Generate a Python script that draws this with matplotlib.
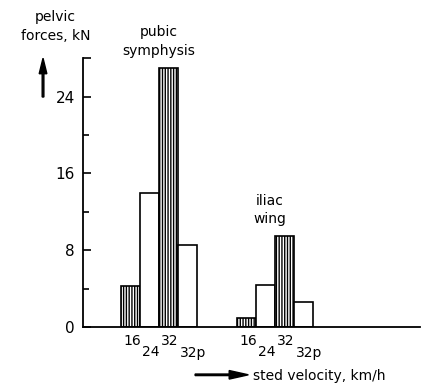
import numpy as np
import matplotlib
matplotlib.use("Agg")
import matplotlib.pyplot as plt

# speed labels and pelvic forces (kN)
speeds = ["16", "24", "32", "32p"]
pubic = [4.3, 14.0, 27.0, 8.5]
iliac = [0.9, 4.4, 9.5, 2.6]
hatched = [True, False, True, False]

plt.rcParams["font.family"] = "DejaVu Sans"

fig = plt.figure(figsize=(4.26, 3.88), dpi=100)
ax = fig.add_axes([0.195, 0.157, 0.791, 0.693])

lab_y = [-0.025, -0.065, -0.025, -0.07]
for start, vals in [(2.0, pubic), (8.1, iliac)]:
    for i, v in enumerate(vals):
        x = start + i
        ax.bar(x, v, width=1.0, align="edge", facecolor="white",
               edgecolor="black", linewidth=1.2,
               hatch="||||||" if hatched[i] else None)
        ax.text(x + 0.1, lab_y[i], speeds[i], transform=ax.get_xaxis_transform(),
                ha="left", va="top", fontsize=10)

ax.set_xlim(0, 17.7)
ax.set_ylim(0, 28)
ax.spines["top"].set_visible(False)
ax.spines["right"].set_visible(False)
ax.spines["left"].set_linewidth(1.3)
ax.spines["bottom"].set_linewidth(1.3)
ax.set_xticks([])
ax.set_yticks([0, 8, 16, 24, 28])
ax.set_yticklabels(["0", "8", "16", "24", ""], fontsize=11)
ax.set_yticks([4, 12, 20], minor=True)
ax.tick_params(axis="y", which="major", direction="in", length=6, width=1.2, pad=6)
ax.tick_params(axis="y", which="minor", direction="in", length=4.5, width=1.2)

# group and axis annotations
ax.text(4.0, 1.0, "pubic\nsymphysis", transform=ax.get_xaxis_transform(),
        ha="center", va="bottom", fontsize=10, linespacing=1.45, clip_on=False)
ax.text(9.8, 0.375, "iliac\nwing", ha="center", va="bottom", fontsize=10,
        linespacing=1.35, transform=ax.get_xaxis_transform())
fig.text(0.13, 0.975, "pelvic\nforces, kN", ha="center", va="top",
         fontsize=10, linespacing=1.5)
fig.text(0.595, 0.032, "sted velocity, km/h", ha="left", va="center", fontsize=10)

fig.patches.append(matplotlib.patches.FancyArrow(
    0.101, 0.75, 0, 0.10, width=0.004, head_width=0.018, head_length=0.04,
    length_includes_head=True, color="black", transform=fig.transFigure))
fig.patches.append(matplotlib.patches.FancyArrow(
    0.458, 0.034, 0.125, 0, width=0.004, head_width=0.022, head_length=0.045,
    length_includes_head=True, color="black", transform=fig.transFigure))

fig.savefig("out.png", dpi=100)
